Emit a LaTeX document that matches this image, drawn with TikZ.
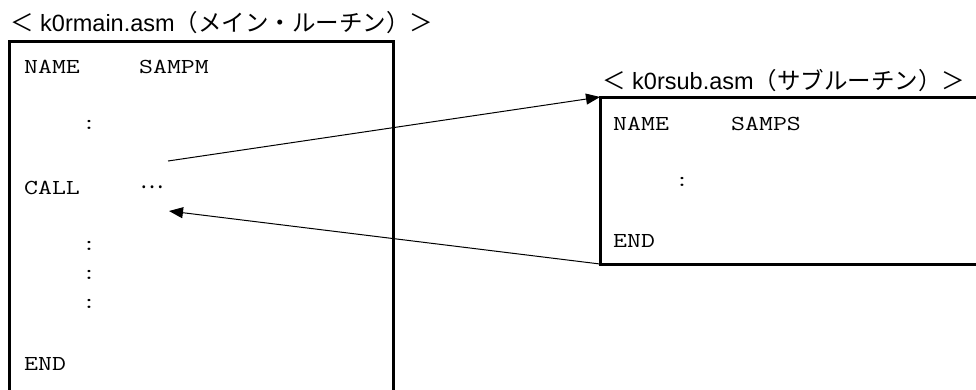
\documentclass[tikz,border=0pt]{standalone}
\usepackage{fontspec}
\setmainfont{Liberation Sans}
\newfontfamily\jpfont{Noto Sans CJK JP}
\newfontfamily\codefont[FakeStretch=1.27]{Latin Modern Mono}
\usetikzlibrary{arrows.meta}
\begin{document}
\begin{tikzpicture}[x=1pt,y=-1pt,
  box/.style={draw, line width=3pt, inner sep=0pt, outer sep=0pt, anchor=north west},
  code/.style={font=\codefont\fontsize{21.3}{22}\selectfont, inner sep=0pt, anchor=base west},
  dots/.style={font=\codefont\fontsize{21.3}{22}\selectfont, inner sep=0pt, anchor=base},
  title/.style={font=\fontsize{23.5}{24}\selectfont, inner sep=0pt, anchor=base west},
  arr/.style={line width=1pt, -{Triangle[length=14pt,width=11pt]}}]
\useasboundingbox (0,0) rectangle (976,389);
\clip (0,0) rectangle (976,389);
% titles
\node[title] (t1) at (10,31) {{\jpfont ＜} k0rmain.asm{\jpfont （メイン・ルーチン）＞}};
\node[title] (t2) at (602,89) {{\jpfont ＜} k0rsub.asm{\jpfont （サブルーチン）＞}};
% boxes
\node[box, minimum width=384pt, minimum height=380pt] (main) at (9,41) {};
\node[box, minimum width=400pt, minimum height=167pt] (sub) at (600,97) {};
% main listing
\node[code] (mname) at (24,73) {NAME};
\node[code] (msamp) at (139,73) {SAMPM};
\node[dots] (mc1) at (89,129) {:};
\node[code] (mcall) at (24,194) {CALL};
\node[font=\jpfont\fontsize{22}{22}\selectfont, inner sep=0pt, anchor=base west] (mell) at (140,188) {…};
\node[dots] (mc2) at (89,250) {:};
\node[dots] (mc3) at (89,279) {:};
\node[dots] (mc4) at (89,308) {:};
\node[code] (mend) at (24,370) {END};
% sub listing
\node[code] (sname) at (613,130) {NAME};
\node[code] (ssamp) at (731,130) {SAMPS};
\node[dots] (sc1) at (682,186) {:};
\node[code] (send) at (613,247) {END};
% connectors
\coordinate (callout) at (168,161);
\coordinate (ret) at (169,211);
\draw[arr] (callout) -- (sub.north west);
\draw[arr] (sub.south west) -- (ret);
\end{tikzpicture}
\end{document}
